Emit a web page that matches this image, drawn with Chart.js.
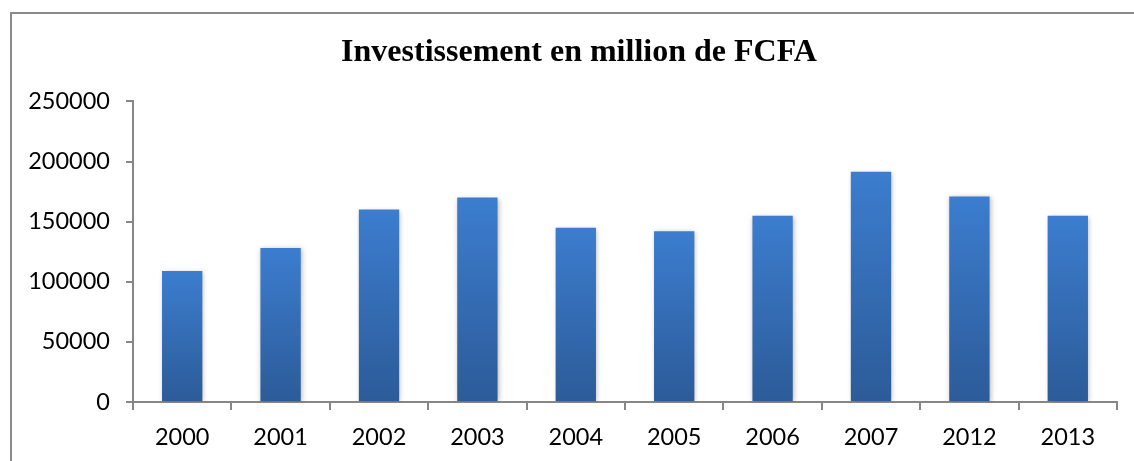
<!DOCTYPE html>
<html>
<head>
<meta charset="utf-8">
<script src="https://cdn.jsdelivr.net/npm/chart.js@4"></script>
<style>
  html, body { margin: 0; padding: 0; background: #fff; }
  #wrap { position: relative; width: 1134px; height: 461px; }
</style>
</head>
<body>
<div id="wrap"><canvas id="c"></canvas></div>
<script>
const categories = ['2000', '2001', '2002', '2003', '2004', '2005', '2006', '2007', '2012', '2013'];
const investment = [109000, 128000, 160000, 170000, 145000, 142000, 155000, 191500, 171000, 155000];
const yTicks = [0, 50000, 100000, 150000, 200000, 250000];
const chartTitle = 'Investissement en million de FCFA';

const axisGray = '#878787';

const framePlugin = {
  id: 'frame',
  beforeDraw(chart) {
    const ctx = chart.ctx;
    ctx.save();
    ctx.fillStyle = '#8a8a8a';
    ctx.fillRect(10, 12, 2, chart.height);
    ctx.fillRect(10, 12, chart.width, 2);
    ctx.restore();
  }
};

const titleShiftPlugin = {
  id: 'titleShift',
  afterLayout(chart) {
    const t = chart.titleBlock;
    if (t) { t.left += 13; t.right += 13; }
  }
};

const shadowPlugin = {
  id: 'barShadow',
  beforeDatasetsDraw(chart) {
    const ctx = chart.ctx;
    ctx.save();
    ctx.shadowColor = 'rgba(0,0,0,0.28)';
    ctx.shadowBlur = 5;
    ctx.shadowOffsetX = 1;
    ctx.shadowOffsetY = 1;
  },
  afterDatasetsDraw(chart) {
    chart.ctx.restore();
  }
};

function barGradient(context) {
  const chart = context.chart;
  const scales = chart.scales;
  if (!chart.chartArea || context.type !== 'data' || !scales.y) return '#3a78c6';
  const top = scales.y.getPixelForValue(context.raw);
  const bottom = scales.y.getPixelForValue(0);
  const g = chart.ctx.createLinearGradient(0, top, 0, bottom);
  g.addColorStop(0, '#3c7dcf');
  g.addColorStop(1, '#2c5b98');
  return g;
}

new Chart(document.getElementById('c'), {
  type: 'bar',
  data: {
    labels: categories,
    datasets: [{
      label: chartTitle,
      data: investment,
      backgroundColor: barGradient,
      borderWidth: 0,
      barPercentage: 0.41,
      categoryPercentage: 1.0
    }]
  },
  options: {
    responsive: true,
    maintainAspectRatio: false,
    animation: false,
    layout: { padding: { top: 34, left: 15, right: 17, bottom: 0 } },
    plugins: {
      legend: { display: false },
      tooltip: { enabled: false },
      title: {
        display: true,
        text: chartTitle,
        color: '#000',
        font: { family: '"Liberation Serif", "Times New Roman", serif', size: 32, weight: 'bold', lineHeight: 1.2 },
        padding: { top: 0, bottom: 29 }
      }
    },
    scales: {
      x: {
        grid: { display: true, drawOnChartArea: false, drawTicks: true, tickLength: 8, color: axisGray, lineWidth: 2, offset: true },
        border: { display: true, color: axisGray, width: 2 },
        ticks: { color: '#000', font: { family: 'Lato, "Liberation Sans", sans-serif', size: 23.5 }, padding: 13, maxRotation: 0, autoSkip: false },
        afterFit(scale) { scale.height = 59; }
      },
      y: {
        min: 0,
        max: 250000,
        afterBuildTicks(scale) { scale.ticks = yTicks.map(v => ({ value: v })); },
        grid: { display: true, drawOnChartArea: false, drawTicks: true, tickLength: 7, color: axisGray, lineWidth: 2 },
        border: { display: true, color: axisGray, width: 2 },
        ticks: { color: '#000', font: { family: 'Lato, "Liberation Sans", sans-serif', size: 23.5 }, padding: 16, callback: v => String(v) },
        afterFit(scale) { scale.width = 118; }
      }
    }
  },
  plugins: [framePlugin, titleShiftPlugin, shadowPlugin]
});
</script>
</body>
</html>
